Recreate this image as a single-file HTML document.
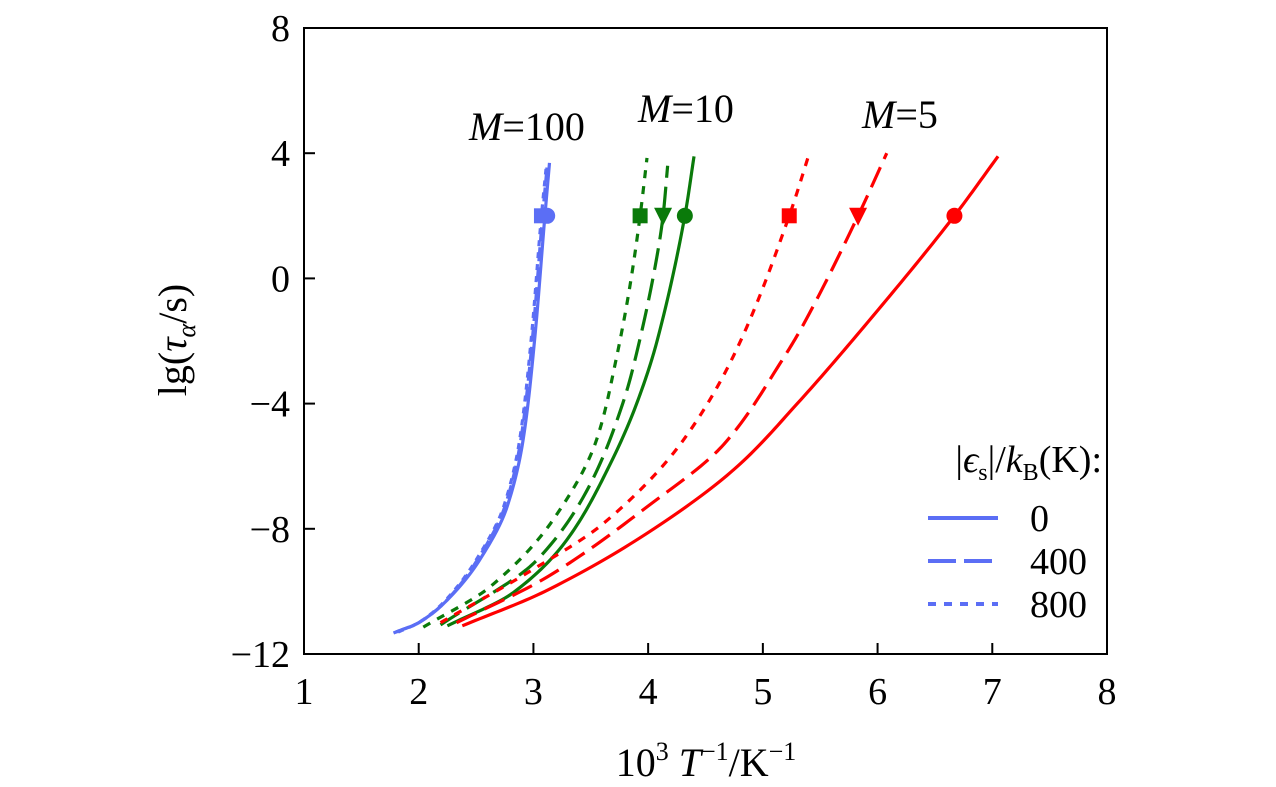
<!DOCTYPE html>
<html><head><meta charset="utf-8"><style>
body{margin:0;background:#fff}
svg{display:block;font-family:"Liberation Serif",serif}
</style></head><body>
<svg id="chart" width="1276" height="787">
<rect x="304" y="28" width="803" height="626" fill="none" stroke="#000" stroke-width="2"/>
<g id="ticks"></g>
<g id="curves"></g>
<g id="markers"></g>
<text x="527" y="140" font-size="40" text-anchor="middle"><tspan font-style="italic">M</tspan>=100</text>
<text x="686" y="122" font-size="40" text-anchor="middle"><tspan font-style="italic">M</tspan>=10</text>
<text x="900" y="128" font-size="40" text-anchor="middle"><tspan font-style="italic">M</tspan>=5</text>
<text x="706" y="776" font-size="40" text-anchor="middle">10<tspan dy="-16" font-size="26">3</tspan><tspan dy="16"> </tspan><tspan font-style="italic">T</tspan><tspan dy="-16" font-size="26">−1</tspan><tspan dy="16">/K</tspan><tspan dy="-16" font-size="26">−1</tspan></text>
<text transform="translate(186,340) rotate(-90)" font-size="40" text-anchor="middle">lg(<tspan font-style="italic">τ<tspan font-size="26" dy="9">α</tspan></tspan><tspan dy="-9">/s)</tspan></text>
<g>
<text x="1102" y="472" font-size="38" text-anchor="end">|<tspan font-style="italic">ϵ</tspan><tspan font-size="24" dy="8">s</tspan><tspan dy="-8">|/</tspan><tspan font-style="italic">k</tspan><tspan font-size="24" dy="8">B</tspan><tspan dy="-8">(K):</tspan></text>
<line x1="928" y1="518" x2="998" y2="518" stroke="#5b6ef5" stroke-width="4"/>
<text x="1030" y="531" font-size="38">0</text>
<line x1="928" y1="561" x2="998" y2="561" stroke="#5b6ef5" stroke-width="4" stroke-dasharray="28,8"/>
<text x="1030" y="574" font-size="38">400</text>
<line x1="928" y1="604" x2="998" y2="604" stroke="#5b6ef5" stroke-width="4" stroke-dasharray="8,8"/>
<text x="1030" y="617" font-size="38">800</text>
</g>
</svg>
<script>
const xTicks=[1,2,3,4,5,6,7,8];
const yTicks=[8,4,0,-4,-8,-12];
const blueSolid=[[1.78,-11.33],[2.0,-11.0],[2.25,-10.27],[2.53,-9.0],[2.77,-7.3],[2.91,-5.16],[3.01,-1.97],[3.1,2],[3.14,3.69]];
const blueDashed=[[1.8,-11.3],[2.0,-11.0],[2.24,-10.3],[2.51,-9.0],[2.75,-7.3],[2.89,-5.16],[2.99,-1.97],[3.08,2],[3.12,3.6]];
const blueDotted=[[1.82,-11.3],[2.0,-11.0],[2.23,-10.3],[2.5,-9.0],[2.74,-7.3],[2.88,-5.16],[2.98,-1.97],[3.07,2],[3.11,3.5]];
const greenSolid=[[2.25,-11.1],[2.82,-10.05],[3.29,-8.36],[3.66,-6.0],[3.9,-4],[4.08,-1.97],[4.32,2],[4.4,3.9]];
const greenDashed=[[2.19,-11.07],[3.03,-9.0],[3.5,-6.54],[3.78,-3.98],[3.87,-2.83],[4.06,0.36],[4.13,2],[4.17,3.6]];
const greenDotted=[[2.04,-11.14],[2.62,-9.86],[3.17,-7.72],[3.55,-5.16],[3.72,-2.6],[3.84,-0.27],[3.93,2],[3.99,3.85]];
const redSolid=[[2.38,-11.1],[3.1,-10],[4.05,-8],[4.78,-6],[5.3,-4],[5.88,-1.55],[6.67,2],[7.05,3.9]];
const redDashed=[[2.33,-11],[3.12,-9.54],[3.99,-7.3],[4.66,-5.3],[5.17,-2.6],[5.36,-1.43],[5.83,2],[6.08,4]];
const redDotted=[[2.19,-11],[2.95,-9.4],[3.62,-7.8],[4.3,-5.2],[4.78,-2.2],[5.23,2],[5.41,4.05]];
const markerX=[3.07,3.12,3.93,4.13,4.32,5.23,5.83,6.67];
const markerY=[2,2,2,2,2,2,2,2];
const markerShape=["sq","ci","sq","tri","ci","sq","tri","ci"];
const markerColor=["#5b6ef5","#5b6ef5","#0a7a0a","#0a7a0a","#0a7a0a","#f00","#f00","#f00"];
const NS="http://www.w3.org/2000/svg";
const X=v=>304+(v-1)*(803/7);
const Y=v=>28+(8-v)*(626/20);
const tg=document.getElementById('ticks');
xTicks.forEach(t=>{
 const l=document.createElementNS(NS,'line');
 l.setAttribute('x1',X(t));l.setAttribute('x2',X(t));l.setAttribute('y1',654);l.setAttribute('y2',643);
 l.setAttribute('stroke','#000');l.setAttribute('stroke-width',2);
 
 
 tg.appendChild(l);
 const tx=document.createElementNS(NS,'text');
 tx.setAttribute('x',X(t));tx.setAttribute('y',704);tx.setAttribute('font-size',38);tx.setAttribute('text-anchor','middle');
 tx.textContent=t;
 
 
 tg.appendChild(tx);
});
yTicks.forEach(t=>{
 const l=document.createElementNS(NS,'line');
 l.setAttribute('x1',304);l.setAttribute('x2',315);l.setAttribute('y1',Y(t));l.setAttribute('y2',Y(t));
 l.setAttribute('stroke','#000');l.setAttribute('stroke-width',2);
 
 
 tg.appendChild(l);
 const tx=document.createElementNS(NS,'text');
 tx.setAttribute('x',290);tx.setAttribute('y',Y(t)+13);tx.setAttribute('font-size',38);tx.setAttribute('text-anchor','end');
 tx.textContent=t<0?'−'+(-t):t;
 
 
 tg.appendChild(tx);
});
// monotone cubic interpolation of x as a function of y (Fritsch-Carlson)
function pathD(pts){
 const ys=pts.map(q=>q[1]), xs=pts.map(q=>q[0]);
 const n=ys.length, d=[], m=new Array(n);
 for(let i=0;i<n-1;i++) d.push((xs[i+1]-xs[i])/(ys[i+1]-ys[i]));
 m[0]=d[0]; m[n-1]=d[n-2];
 for(let i=1;i<n-1;i++) m[i]=(d[i-1]*d[i]<=0)?0:2/(1/d[i-1]+1/d[i]);
 let out='';
 for(let i=0;i<n-1;i++){
  const h=ys[i+1]-ys[i];
  for(let k=0;k<=20;k++){
   if(i>0&&k===0)continue;
   const t=k/20,t2=t*t,t3=t2*t;
   const xv=(2*t3-3*t2+1)*xs[i]+(t3-2*t2+t)*h*m[i]+(-2*t3+3*t2)*xs[i+1]+(t3-t2)*h*m[i+1];
   const yv=ys[i]+t*h;
   out+=(out?'L':'M')+X(xv).toFixed(2)+','+Y(yv).toFixed(2);
  }
 }
 return out;
}
const cg=document.getElementById('curves');
const series=[
 [blueSolid,'#5b6ef5','','curve-m100-0'],[blueDashed,'#5b6ef5','14,6','curve-m100-400'],[blueDotted,'#5b6ef5','6,6','curve-m100-800'],
 [greenSolid,'#0a7a0a','','curve-m10-0'],[greenDashed,'#0a7a0a','22,9','curve-m10-400'],[greenDotted,'#0a7a0a','8,8','curve-m10-800'],
 [redSolid,'#f00','','curve-m5-0'],[redDashed,'#f00','22,9','curve-m5-400'],[redDotted,'#f00','8,8','curve-m5-800']];
series.forEach(s=>{
 const p=document.createElementNS(NS,'path');
 p.setAttribute('d',pathD(s[0]));p.setAttribute('fill','none');p.setAttribute('stroke',s[1]);p.setAttribute('stroke-width',3.2);
 p.setAttribute('stroke-linejoin','round');
 if(s[2])p.setAttribute('stroke-dasharray',s[2]);
 
 
 cg.appendChild(p);
});
const mg=document.getElementById('markers');
markerX.forEach((mx,i)=>{
 const cx=X(mx),cy=Y(markerY[i]);let e;
 if(markerShape[i]==='sq'){e=document.createElementNS(NS,'rect');e.setAttribute('x',cx-7.5);e.setAttribute('y',cy-7.5);e.setAttribute('width',15);e.setAttribute('height',15);}
 else if(markerShape[i]==='ci'){e=document.createElementNS(NS,'circle');e.setAttribute('cx',cx);e.setAttribute('cy',cy);e.setAttribute('r',8);}
 else{e=document.createElementNS(NS,'polygon');e.setAttribute('points',(cx-9)+','+(cy-8)+' '+(cx+9)+','+(cy-8)+' '+cx+','+(cy+10));}
 e.setAttribute('fill',markerColor[i]);
 
 
 mg.appendChild(e);
});
</script>
</body></html>
